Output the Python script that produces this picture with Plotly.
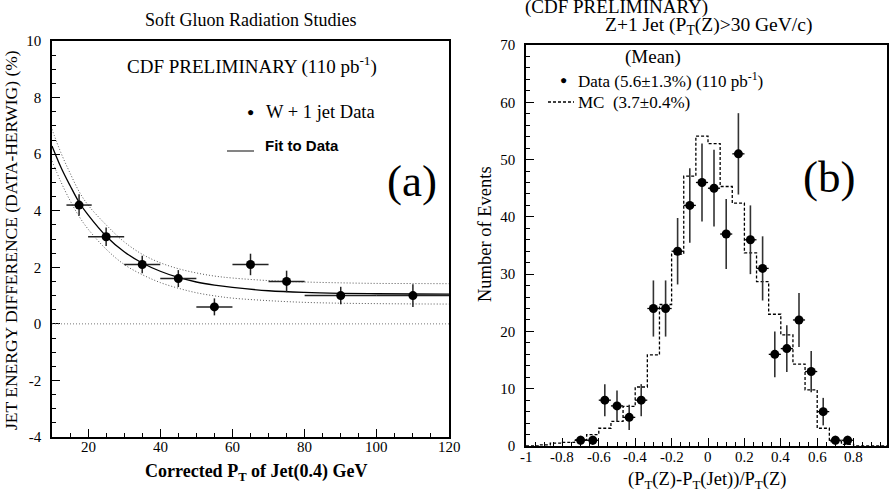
import numpy as np
import plotly.graph_objects as go

# ---------------- Panel (a) data ----------------
a_pt_x = [17.5, 25, 35, 45, 55, 65, 75, 90, 110]
a_pt_xerr = [3.5, 5, 5, 5, 5, 5, 5, 10, 10]
a_pt_y = [4.2, 3.08, 2.1, 1.6, 0.6, 2.1, 1.5, 1.0, 1.0]
a_pt_yerr = [0.38, 0.33, 0.31, 0.3, 0.3, 0.38, 0.38, 0.31, 0.4]

a_fit_x = [10, 12.5, 15, 17.5, 20, 25, 30, 35, 40, 45, 50, 55, 60, 70, 80, 90, 100, 110, 120]
a_fit_y = [6.29, 5.53, 4.89, 4.3, 3.85, 3.1, 2.55, 2.15, 1.86, 1.64, 1.48, 1.37, 1.29, 1.17, 1.11, 1.08, 1.065, 1.055, 1.05]
a_fit_hi = [6.88, 6.04, 5.33, 4.68, 4.2, 3.5, 2.9, 2.46, 2.16, 1.95, 1.8, 1.69, 1.62, 1.53, 1.48, 1.45, 1.43, 1.425, 1.42]
a_fit_lo = [5.76, 5.01, 4.36, 3.8, 3.35, 2.64, 2.1, 1.74, 1.46, 1.26, 1.1, 0.99, 0.91, 0.82, 0.76, 0.73, 0.715, 0.705, 0.70]

a_xticks = [20, 40, 60, 80, 100, 120]
a_xticklabels = ["20", "40", "60", "80", "100", "120"]
a_yticks = [-4, -2, 0, 2, 4, 6, 8, 10]
a_yticklabels = ["-4", "-2", "0", "2", "4", "6", "8", "10"]

# ---------------- Panel (b) data ----------------
b_x = [-0.7, -0.633, -0.567, -0.5, -0.433, -0.367, -0.3, -0.233, -0.167, -0.1, -0.033,
       0.033, 0.1, 0.167, 0.233, 0.3, 0.367, 0.433, 0.5, 0.567, 0.633, 0.7, 0.767]
b_y = [1, 1, 8, 7, 5, 8, 24, 24, 34, 42, 46, 45, 37, 51, 36, 31, 16, 17, 22, 13, 6, 1, 1]
b_yerr = [0.8, 0.8, 2.8, 2.7, 2.2, 2.8, 4.9, 4.9, 5.8, 6.5, 6.8, 6.7, 6.1, 7.1, 6.0, 5.6,
          4.0, 4.1, 4.7, 3.6, 2.4, 0.8, 0.8]
b_xerr_half = 0.0333

mc_edges = np.round(np.linspace(-1, 1, 31), 4)
mc_values = [0, 0.2, 0.5, 0.65, 1.05, 2.0, 3.1, 4.3, 6.9, 10.3, 15.9, 24.7, 33.5, 47.1, 54.1,
             52.8, 45.3, 42.4, 33.7, 28.7, 23.0, 19.4, 14.3, 9.8, 3.1, 0.75, 0.3, 0, 0, 0]

b_xticks = [-1, -0.8, -0.6, -0.4, -0.2, 0, 0.2, 0.4, 0.6, 0.8, 1]
b_xticklabels = ["-1", "-0.8", "-0.6", "-0.4", "-0.2", "0", "0.2", "0.4", "0.6", "0.8", "1"]
b_yticks = [0, 10, 20, 30, 40, 50, 60, 70]
b_yticklabels = ["0", "10", "20", "30", "40", "50", "60", "70"]

W, H = 889, 497
SERIF = "Liberation Serif"


def px(x):
    return x / W


def py(y):
    return 1 - y / H


fig = go.Figure()

# Panel (a) traces
band_style = dict(color="#555555", width=1, dash="1px,2px")
fig.add_trace(go.Scatter(x=a_fit_x, y=a_fit_hi, mode="lines", line=band_style,
                         line_shape="spline", xaxis="x", yaxis="y", showlegend=False))
fig.add_trace(go.Scatter(x=a_fit_x, y=a_fit_lo, mode="lines", line=band_style,
                         line_shape="spline", xaxis="x", yaxis="y", showlegend=False))
fig.add_trace(go.Scatter(x=a_fit_x, y=a_fit_y, mode="lines",
                         line=dict(color="black", width=1.3), line_shape="spline",
                         xaxis="x", yaxis="y", showlegend=False))
fig.add_trace(go.Scatter(
    x=a_pt_x, y=a_pt_y, mode="markers",
    marker=dict(color="black", size=9),
    error_x=dict(type="data", array=a_pt_xerr, color="#222222", thickness=1.5, width=0),
    error_y=dict(type="data", array=a_pt_yerr, color="#222222", thickness=1.5, width=0),
    xaxis="x", yaxis="y", showlegend=False))

# Panel (b) traces
mc_y_step = list(mc_values) + [mc_values[-1]]
fig.add_trace(go.Scatter(x=mc_edges, y=mc_y_step, mode="lines", line_shape="hv",
                         line=dict(color="black", width=1.3, dash="3px,2px"),
                         xaxis="x2", yaxis="y2", showlegend=False))
fig.add_trace(go.Scatter(
    x=b_x, y=b_y, mode="markers",
    marker=dict(color="black", size=9),
    error_x=dict(type="constant", value=b_xerr_half, color="black", thickness=1.3, width=0),
    error_y=dict(type="data", array=b_yerr, color="#333333", thickness=1.6, width=0),
    xaxis="x2", yaxis="y2", showlegend=False))

axis_common = dict(showline=True, linecolor="black", linewidth=1.5, mirror=True,
                   ticks="inside", ticklen=8, tickwidth=1.2, tickcolor="black",
                   showgrid=False, zeroline=False, automargin=False,
                   tickfont=dict(family=SERIF, size=15, color="black"))

fig.update_layout(
    template="none",
    width=W, height=H,
    margin=dict(l=0, r=0, t=0, b=0, pad=0, autoexpand=False),
    paper_bgcolor="white", plot_bgcolor="white",
    font=dict(family=SERIF, color="black"),
    xaxis=dict(domain=[px(52), px(449)], range=[10, 120], anchor="y",
               tickvals=a_xticks, showticklabels=False,
               minor=dict(ticks="inside", ticklen=4, dtick=5, tick0=0, tickcolor="black"),
               **axis_common),
    yaxis=dict(domain=[py(437), py(41)], range=[-4, 10], anchor="x",
               tickvals=a_yticks, ticktext=a_yticklabels, ticklabelstandoff=6,
               minor=dict(ticks="inside", ticklen=4, dtick=0.5, tick0=0, tickcolor="black"),
               **axis_common),
    xaxis2=dict(domain=[px(526), px(887)], range=[-1, 0.9835], anchor="y2",
                tickvals=b_xticks, showticklabels=False,
                minor=dict(ticks="inside", ticklen=4, dtick=0.05, tick0=0, tickcolor="black"),
                **axis_common),
    yaxis2=dict(domain=[py(446), py(45)], range=[0, 70], anchor="x2",
                tickvals=b_yticks, ticktext=b_yticklabels, ticklabelstandoff=6,
                minor=dict(ticks="inside", ticklen=4, dtick=2, tick0=0, tickcolor="black"),
                **axis_common),
)

# x tick labels placed as text at the tick values
for v, t in zip(a_xticks, a_xticklabels):
    fig.add_annotation(text=t, x=v, y=py(447), xref="x", yref="paper", showarrow=False,
                       xanchor="center", yanchor="middle",
                       font=dict(family=SERIF, size=15, color="black"))
for v, t in zip(b_xticks, b_xticklabels):
    fig.add_annotation(text=t, x=v, y=py(457), xref="x2", yref="paper", showarrow=False,
                       xanchor="center", yanchor="middle",
                       font=dict(family=SERIF, size=15, color="black"))

# zero line on panel (a)
fig.add_shape(type="line", xref="x domain", yref="y", x0=0, x1=1, y0=0, y1=0,
              line=dict(color="#777777", width=1, dash="1px,2px"))

# legend glyphs
fig.add_shape(type="line", xref="paper", yref="paper", x0=px(227), x1=px(254),
              y0=py(151), y1=py(151), line=dict(color="#333333", width=1.2))
fig.add_shape(type="line", xref="paper", yref="paper", x0=px(548), x1=px(574),
              y0=py(102), y1=py(102), line=dict(color="black", width=1.3, dash="3px,2px"))


def ann(text, x, y, size=16, xanchor="center", family=SERIF, angle=0, bold=False):
    if bold:
        text = "<b>" + text + "</b>"
    fig.add_annotation(text=text, x=px(x), y=py(y), xref="paper", yref="paper",
                       xanchor=xanchor, yanchor="middle", showarrow=False,
                       textangle=angle, font=dict(family=family, size=size, color="black"))


# Panel (a) texts
ann("Soft Gluon Radiation Studies", 251, 20, size=18)
ann("CDF PRELIMINARY (110 pb<sup>-1</sup>)", 252, 66, size=19)
ann("●", 251, 112, size=12)
ann("W + 1 jet Data", 264, 112, size=18.5, xanchor="left")
ann("Fit to Data", 263, 146, size=15, xanchor="left", family="Liberation Sans", bold=True)
ann("(a)", 412, 181, size=45)
ann("Corrected P<sub>T</sub> of Jet(0.4) GeV", 256, 472, size=18, bold=True)
ann("JET ENERGY DIFFERENCE (DATA-HERWIG) (%)", 11, 240, size=17.5, angle=-90)

# Panel (b) texts
ann("(CDF PRELIMINARY)", 616, 7, size=19)
ann("Z+1 Jet (P<sub>T</sub>(Z)>30 GeV/c)", 708, 26, size=19.5)
ann("(Mean)", 653, 57, size=19)
ann("●", 563, 80, size=12)
ann("Data (5.6±1.3%) (110 pb<sup>-1</sup>)", 576, 80, size=17, xanchor="left")
ann("MC  (3.7±0.4%)", 576, 102, size=17, xanchor="left")
ann("(b)", 829, 177, size=45)
ann("(P<sub>T</sub>(Z)-P<sub>T</sub>(Jet))/P<sub>T</sub>(Z)", 707, 480, size=18.5)
ann("Number of Events", 485, 234, size=18.5, angle=-90)

fig.write_html("out.html", post_script="document.body.style.margin='0px';",
               config={"displayModeBar": False})
